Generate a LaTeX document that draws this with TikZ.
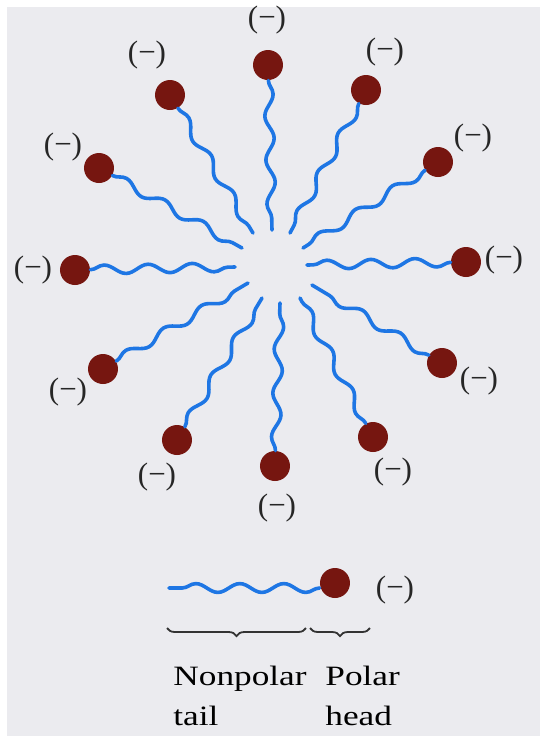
\documentclass[tikz,border=0pt]{standalone}
\usepackage{fontspec}
\setmainfont{Liberation Serif}
\usepackage{tikz}
\usetikzlibrary{
    decorations.pathmorphing,
    decorations.pathreplacing,
    calc
}
\definecolor{paper}{RGB}{235,235,239}
\definecolor{tailblue}{RGB}{30,118,228}
\definecolor{headred}{RGB}{118,22,16}
\newcommand{\widetext}[1]{\scalebox{1.26}[1]{#1}}
\tikzset{
    head/.style={
        circle,
        fill=headred,
        inner sep=0pt,
        minimum size=15pt
    },
    charge/.style={
        inner sep=0pt,
        text=black!85,
        font=\fontsize{15.5}{18}\selectfont
    },
    tail/.style={
        draw=tailblue,
        line width=1.8pt,
        line cap=round,
        decorate,
        decoration={snake, segment length=22pt, amplitude=2.2pt}
    },
    brace/.style={
        draw=black!80,
        line width=0.9pt,
        decorate,
        decoration={brace, amplitude=4pt, mirror}
    },
    legend/.style={
        inner sep=0pt,
        align=left,
        anchor=north west,
        font=\fontsize{14}{20}\selectfont
    }
}

\begin{document}
\begin{tikzpicture}[x=0.5pt, y=-0.5pt]

\useasboundingbox (0,0) rectangle (540,736);
\fill[paper] (7,7) rectangle (540,736);

% micelle heads
\node[head] (h01) at (268,65) {};
\node[head] (h02) at (366,90) {};
\node[head] (h03) at (438,162) {};
\node[head] (h04) at (466,262) {};
\node[head] (h05) at (442,363) {};
\node[head] (h06) at (373,437) {};
\node[head] (h07) at (275,466) {};
\node[head] (h08) at (177,440) {};
\node[head] (h09) at (103,369) {};
\node[head] (h10) at (75,270) {};
\node[head] (h11) at (99,168) {};
\node[head] (h12) at (170,95) {};

% inner ends of the tails
\coordinate (e01) at (272,230);
\coordinate (e02) at (290,233);
\coordinate (e03) at (303,248);
\coordinate (e04) at (307,265);
\coordinate (e05) at (312,285);
\coordinate (e06) at (300,298);
\coordinate (e07) at (280,303);
\coordinate (e08) at (262,298);
\coordinate (e09) at (248,283);
\coordinate (e10) at (235,267);
\coordinate (e11) at (242,248);
\coordinate (e12) at (253,233);

\draw[tail] (h01) -- (e01);
\draw[tail] (h02) -- (e02);
\draw[tail] (h03) -- (e03);
\draw[tail] (h04) -- (e04);
\draw[tail] (h05) -- (e05);
\draw[tail] (h06) -- (e06);
\draw[tail] (h07) -- (e07);
\draw[tail] (h08) -- (e08);
\draw[tail] (h09) -- (e09);
\draw[tail] (h10) -- (e10);
\draw[tail] (h11) -- (e11);
\draw[tail] (h12) -- (e12);

% charges
\node[charge] (c01) at (267,20) {(−)};
\node[charge] (c02) at (385,52) {(−)};
\node[charge] (c03) at (473,138) {(−)};
\node[charge] (c04) at (504,260) {(−)};
\node[charge] (c05) at (479,381) {(−)};
\node[charge] (c06) at (393,472) {(−)};
\node[charge] (c07) at (277,508) {(−)};
\node[charge] (c08) at (157,477) {(−)};
\node[charge] (c09) at (68,392) {(−)};
\node[charge] (c10) at (33,270) {(−)};
\node[charge] (c11) at (63,147) {(−)};
\node[charge] (c12) at (147,55) {(−)};

% single molecule
\node[head] (lhead) at (335,583) {};
\coordinate (lend) at (169,588);
\draw[tail] (lhead.west) ++(0,5) coordinate (ljoin) -- (lend);
\node[charge] (lcharge) at (395,590) {(−)};

\coordinate (tailL) at (167,628);
\coordinate (tailR) at (306,628);
\coordinate (headL) at (310,628);
\coordinate (headR) at (370,628);
\draw[brace] (tailL) -- (tailR);
\draw[brace] (headL) -- (headR);

\node[legend] (nonpolar) at (173,666) {\widetext{Nonpolar}\\\widetext{tail}};
\node[legend] (polar) at (325,666) {\widetext{Polar}\\\widetext{head}};

\end{tikzpicture}
\end{document}
